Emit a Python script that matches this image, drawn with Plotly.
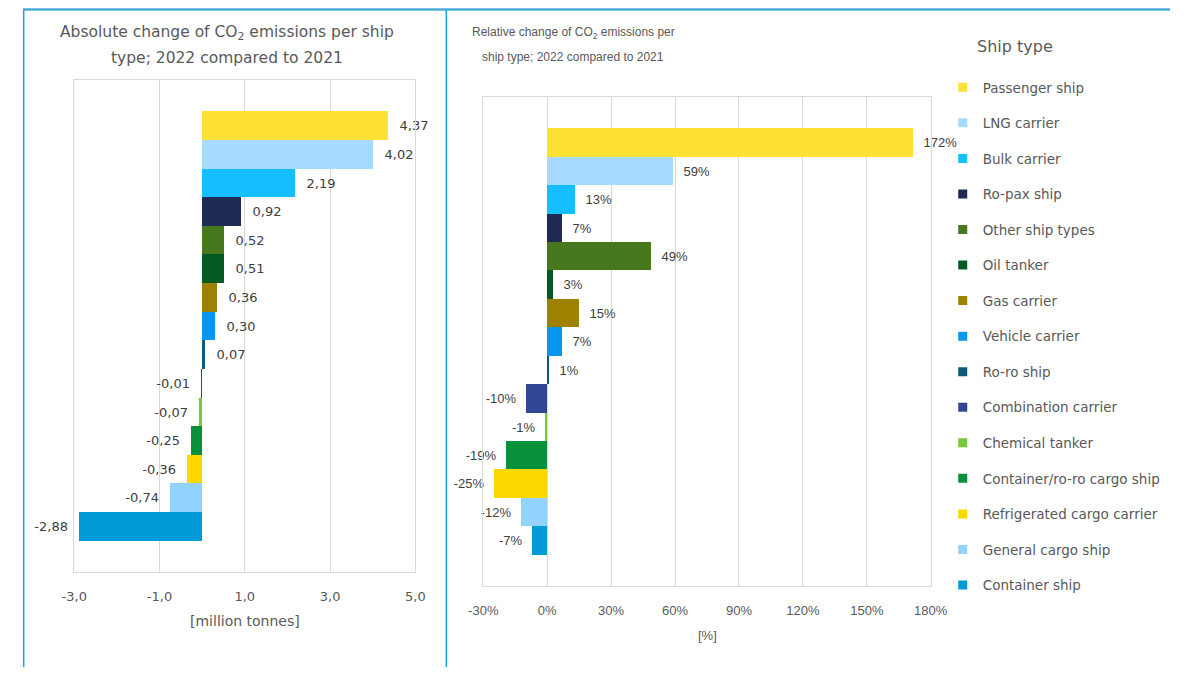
import plotly.graph_objects as go

ship_types = ['Passenger ship', 'LNG carrier', 'Bulk carrier', 'Ro-pax ship', 'Other ship types',
              'Oil tanker', 'Gas carrier', 'Vehicle carrier', 'Ro-ro ship', 'Combination carrier',
              'Chemical tanker', 'Container/ro-ro cargo ship', 'Refrigerated cargo carrier',
              'General cargo ship', 'Container ship']

# million tonnes, 2022 vs 2021
abs_change = [4.37, 4.02, 2.19, 0.92, 0.52, 0.51, 0.36, 0.30, 0.07, -0.01, -0.07, -0.25, -0.36, -0.74, -2.88]
# percent, 2022 vs 2021
rel_change = [172, 59, 13, 7, 49, 3, 15, 7, 1, -10, -1, -19, -25, -12, -7]

bar_colors = ['#FFE135', '#A6DBFF', '#14BEFF', '#1F2A55', '#46781E', '#035A22', '#9C8200', '#0896F0',
              '#0C5A78', '#2F4694', '#78C83C', '#09903A', '#FFD800', '#92D2FF', '#009BD8']

abs_ticks = [-3, -1, 1, 3, 5]
rel_ticks = [-30, 0, 30, 60, 90, 120, 150, 180]

# figure sits inside the page's 8px body margin
OFF = 8
W, H = 1195 - 2 * OFF, 659
# the photographed page comes out slightly narrowed: shot_x = SX0 + SK * page_x
SX0, SK = 14.4, 0.974
grey = '#595959'
grid = '#D9D9D9'
left_font = 'DejaVu Sans'
right_font = 'Liberation Sans Narrow, Liberation Sans, Arial'
pad = '\u00a0\u00a0'


def px_x(p):
    page = (p - SX0) / SK
    return min(max((page - OFF) / W, 0), 1)


def px_y(p):
    return 1 - (p - OFF) / H


abs_text = [(pad + f'{v:.2f}' if v >= 0 else f'{v:.2f}' + pad).replace('.', ',') for v in abs_change]
rel_text = [(pad + f'{v}%' if v >= 0 else f'{v}%' + pad) for v in rel_change]

fig = go.Figure()

fig.add_trace(go.Bar(x=abs_change, y=ship_types, orientation='h', marker_color=bar_colors,
                     marker_line_width=0, text=abs_text, textposition='outside', cliponaxis=False,
                     textfont=dict(family=left_font, size=13, color='#404040'),
                     showlegend=False, xaxis='x', yaxis='y', hoverinfo='x+y'))

fig.add_trace(go.Bar(x=rel_change, y=ship_types, orientation='h', marker_color=bar_colors,
                     marker_line_width=0, text=rel_text, textposition='outside', cliponaxis=False,
                     textfont=dict(family=right_font, size=13, color='#404040'),
                     showlegend=False, xaxis='x2', yaxis='y2', hoverinfo='x+y'))

# legend entries
for name, c in zip(ship_types, bar_colors):
    fig.add_trace(go.Scatter(x=[None], y=[None], mode='markers', name=name, legendgroup=name,
                             marker=dict(symbol='square', size=9, color=c),
                             xaxis='x2', yaxis='y2'))


def note(text, x, y, size, family, anchor='center'):
    return dict(text=text, x=px_x(x), y=px_y(y), xref='paper', yref='paper', showarrow=False,
                xanchor=anchor, yanchor='middle', font=dict(family=family, size=size, color=grey))


fig.update_layout(
    width=W, height=H, margin=dict(l=0, r=0, t=0, b=0),
    paper_bgcolor='white', plot_bgcolor='white',
    bargap=0, barmode='relative',
    font=dict(family=left_font, color=grey),

    xaxis=dict(domain=[px_x(73.5), px_x(415)], range=[-3, 5], tickvals=abs_ticks,
               ticktext=[f'{v:.1f}'.replace('.', ',') for v in abs_ticks],
               showgrid=True, gridcolor=grid, zeroline=False, showline=True, linecolor=grid, mirror=True,
               ticks='', ticklabelstandoff=12, tickfont=dict(family=left_font, size=13, color=grey),
               anchor='y'),
    yaxis=dict(domain=[px_y(572), px_y(80)], range=[15.6, -1.6], showticklabels=False, showgrid=False,
               showline=True, linecolor=grid, mirror=True, ticks='', anchor='x'),

    xaxis2=dict(domain=[px_x(483), px_x(931)], range=[-30, 180], tickvals=rel_ticks,
                ticktext=[f'{v}%' for v in rel_ticks],
                showgrid=True, gridcolor=grid, zeroline=False, showline=True, linecolor=grid, mirror=True,
                ticks='', ticklabelstandoff=12, tickfont=dict(family=right_font, size=13, color=grey),
                anchor='y2'),
    yaxis2=dict(domain=[px_y(586), px_y(97)], range=[15.6, -1.6], showticklabels=False, showgrid=False,
                showline=True, linecolor=grid, mirror=True, ticks='', anchor='x2'),

    legend=dict(x=px_x(943), y=px_y(72), xanchor='left', yanchor='top', tracegroupgap=15,
                font=dict(family=left_font, size=13.5, color=grey), bgcolor='rgba(0,0,0,0)'),

    annotations=[
        note('Absolute change of CO<sub>2</sub> emissions per ship', 226, 33, 15.5, left_font),
        note('type; 2022 compared to 2021', 226, 58, 15.5, left_font),
        note('Relative change of CO<sub>2</sub> emissions per', 573, 33, 12, right_font),
        note('ship type; 2022 compared to 2021', 573, 57, 12, right_font),
        note('Ship type', 975, 46, 16, left_font, anchor='left'),
        note('[million tonnes]', 244, 621, 14, left_font),
        note('[%]', 707, 635, 13, right_font),
    ],

    shapes=[
        dict(type='line', xref='paper', yref='paper', x0=0, x1=1, y0=px_y(9.5), y1=px_y(9.5),
             line=dict(color='#4BADD7', width=2.5)),
        dict(type='line', xref='paper', yref='paper', x0=0.0006, x1=0.0006, y0=0, y1=px_y(9.5),
             line=dict(color='#18A5E2', width=1.5)),
        dict(type='line', xref='paper', yref='paper', x0=px_x(446), x1=px_x(446), y0=0, y1=px_y(9.5),
             line=dict(color='#18A5E2', width=1.5)),
    ],
)

fig.write_html('out.html')
